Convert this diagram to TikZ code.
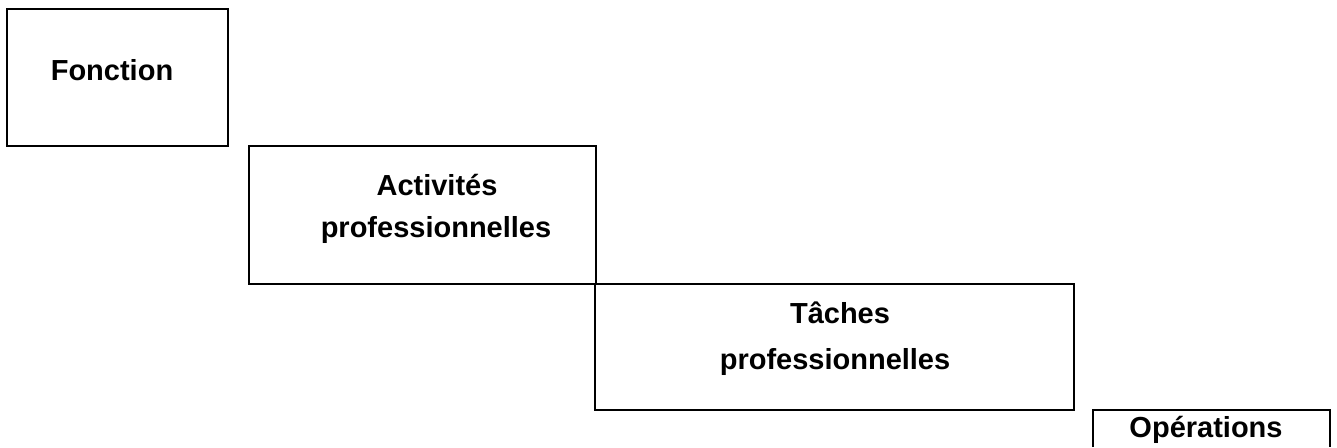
\documentclass[tikz,border=0pt]{standalone}
\usepackage{fontspec}
\setmainfont{Liberation Sans}
\begin{document}
\begin{tikzpicture}[x=0.5pt,y=-0.5pt,
  boxline/.style={draw=black,line width=1pt},
  lbl/.style={anchor=base,inner sep=0pt,font=\fontsize{14.5}{17}\selectfont\bfseries}]
\useasboundingbox (0,0) rectangle (1337,447);
% boxes
\draw[boxline] (7,9) rectangle (228,146);
\draw[boxline] (249,146) rectangle (596,284);
\draw[boxline] (595,284) rectangle (1074,410);
\coordinate (o1) at (1093,447);
\coordinate (o2) at (1093,410);
\coordinate (o3) at (1330,410);
\coordinate (o4) at (1330,447);
\draw[boxline] (o1) -- (o2) -- (o3) -- (o4);
% texts
\node[lbl] (fonction) at (112,80) {Fonction};
\node[lbl] (act1) at (437,195) {Activités};
\node[lbl] (act2) at (436,237) {professionnelles};
\node[lbl] (tac1) at (840,323) {Tâches};
\node[lbl] (tac2) at (835,369) {professionnelles};
\node[lbl] (ope) at (1206,437) {Opérations};
\end{tikzpicture}
\end{document}
